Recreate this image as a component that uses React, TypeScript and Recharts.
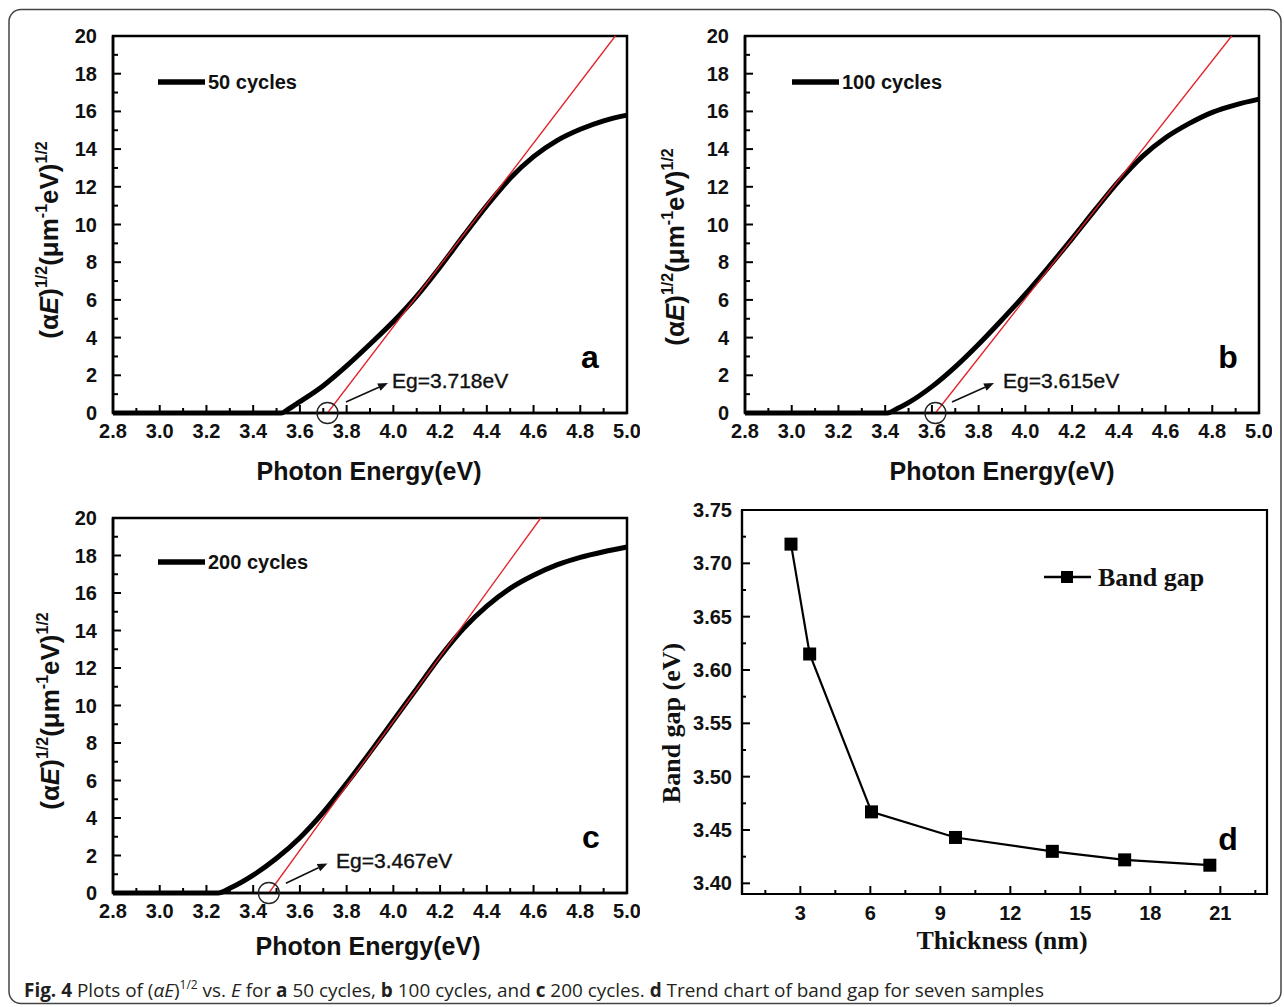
import React from "react";
import {
  LineChart,
  Line,
  XAxis,
  YAxis,
  ReferenceArea,
  ReferenceDot,
  ReferenceLine,
} from "recharts";

// ---- values ----
const energyTicks = [
  2.8, 2.9, 3.0, 3.1, 3.2, 3.3, 3.4, 3.5, 3.6, 3.7, 3.8, 3.9, 4.0, 4.1, 4.2,
  4.3, 4.4, 4.5, 4.6, 4.7, 4.8, 4.9, 5.0,
];
const absTicks = [
  0, 1, 2, 3, 4, 5, 6, 7, 8, 9, 10, 11, 12, 13, 14, 15, 16, 17, 18, 19, 20,
];

const energy50 = [2.8, 3.0, 3.2, 3.4, 3.52, 3.55, 3.6, 3.7, 3.8, 3.9, 4.0, 4.1, 4.2, 4.3, 4.4, 4.5, 4.6, 4.7, 4.8, 4.9, 5.0];
const abs50 = [0, 0, 0, 0, 0, 0.2, 0.6, 1.45, 2.5, 3.65, 4.85, 6.2, 7.75, 9.4, 11.0, 12.45, 13.6, 14.45, 15.05, 15.5, 15.8];

const energy100 = [2.8, 3.0, 3.2, 3.41, 3.45, 3.5, 3.6, 3.7, 3.8, 3.9, 4.0, 4.1, 4.2, 4.3, 4.4, 4.5, 4.6, 4.7, 4.8, 4.9, 5.0];
const abs100 = [0, 0, 0, 0, 0.22, 0.55, 1.4, 2.45, 3.65, 4.95, 6.3, 7.75, 9.25, 10.8, 12.3, 13.6, 14.6, 15.35, 15.95, 16.35, 16.65];

const energy200 = [2.8, 3.0, 3.25, 3.3, 3.4, 3.5, 3.6, 3.7, 3.8, 3.9, 4.0, 4.1, 4.2, 4.3, 4.4, 4.5, 4.6, 4.7, 4.8, 4.9, 5.0];
const abs200 = [0, 0, 0, 0.25, 0.95, 1.85, 2.95, 4.3, 5.85, 7.5, 9.2, 10.9, 12.6, 14.1, 15.3, 16.25, 16.95, 17.5, 17.9, 18.2, 18.45];

// linear fits: energy where the fit meets y = 0 and y = 20
const fitY = [0, 20];
const fit50 = [3.718, 4.95];
const fit100 = [3.615, 4.883];
const fit200 = [3.467, 4.631];

// arrow from the circled intercept towards the Eg label: x1, y1, x2, y2
const arrow50 = [3.797, 0.58, 3.977, 1.59];
const arrow100 = [3.686, 0.58, 3.866, 1.59];
const arrow200 = [3.54, 0.52, 3.718, 1.58];

const thickness = [2.6, 3.4, 6.05, 9.65, 13.8, 16.9, 20.55];
const bandGap = [3.718, 3.615, 3.467, 3.443, 3.43, 3.422, 3.417];
const thicknessTicks = [1.5, 3, 4.5, 6, 7.5, 9, 10.5, 12, 13.5, 15, 16.5, 18, 19.5, 21, 22.5];
const gapTicks = [3.4, 3.425, 3.45, 3.475, 3.5, 3.525, 3.55, 3.575, 3.6, 3.625, 3.65, 3.675, 3.7, 3.725, 3.75];

const SANS = "'Liberation Sans', Arial, sans-serif";
const SERIF = "'Liberation Serif', 'Times New Roman', serif";
const RED = "#e3232a";

function EnergyTick(props: any) {
  const { x, y, payload } = props;
  const v = payload.value;
  const major = Math.round(v * 10) % 2 === 0;
  return (
    <g>
      <line x1={x} x2={x} y1={y} y2={y - (major ? 8 : 5)} stroke="#000" strokeWidth={2} />
      {major && (
        <text x={x} y={y + 25} textAnchor="middle" fontFamily={SANS} fontWeight="bold" fontSize={20} fill="#111">
          {v.toFixed(1)}
        </text>
      )}
    </g>
  );
}

function AbsTick(props: any) {
  const { x, y, payload } = props;
  const v = payload.value;
  const major = v % 2 === 0;
  return (
    <g>
      <line x1={x} x2={x + (major ? 8 : 5)} y1={y} y2={y} stroke="#000" strokeWidth={2} />
      {major && (
        <text x={x - 16} y={y + 7} textAnchor="end" fontFamily={SANS} fontWeight="bold" fontSize={20} fill="#111">
          {v}
        </text>
      )}
    </g>
  );
}

function ThickTick(props: any) {
  const { x, y, payload } = props;
  const v = payload.value;
  const major = v % 3 === 0;
  return (
    <g>
      <line x1={x} x2={x} y1={y} y2={y - (major ? 8 : 4)} stroke="#000" strokeWidth={2} />
      {major && (
        <text x={x} y={y + 26} textAnchor="middle" fontFamily={SANS} fontWeight="bold" fontSize={20} fill="#111">
          {v}
        </text>
      )}
    </g>
  );
}

function GapTick(props: any) {
  const { x, y, payload } = props;
  const v = payload.value;
  const major = Math.round(v * 1000) % 50 === 0;
  return (
    <g>
      <line x1={x} x2={x + (major ? 8 : 4)} y1={y} y2={y} stroke="#000" strokeWidth={2} />
      {major && (
        <text x={x - 10} y={y + 7} textAnchor="end" fontFamily={SANS} fontWeight="bold" fontSize={20} fill="#111">
          {v.toFixed(2)}
        </text>
      )}
    </g>
  );
}

function ArrowShape(props: any) {
  const { x1, y1, x2, y2 } = props;
  const a = Math.atan2(y2 - y1, x2 - x1);
  const len = 10;
  const half = 4;
  const bx = x2 - len * Math.cos(a);
  const by = y2 - len * Math.sin(a);
  const pts = [
    [x2, y2],
    [bx + half * Math.sin(a), by - half * Math.cos(a)],
    [bx - half * Math.sin(a), by + half * Math.cos(a)],
  ]
    .map((p) => p.join(","))
    .join(" ");
  return (
    <g>
      <line x1={x1} y1={y1} x2={bx} y2={by} stroke="#111" strokeWidth={1.6} />
      <polygon points={pts} fill="#111" />
    </g>
  );
}

function SquareDot(props: any) {
  const { cx, cy, index } = props;
  return <rect key={index} x={cx - 6.5} y={cy - 6.5} width={13} height={13} fill="#000" />;
}

interface AbsProps {
  left: number;
  top: number;
  mb: number;
  energy: number[];
  abs: number[];
  fit: number[];
  arrow: number[];
}

function AbsPanel({ left, top, mb, energy, abs, fit, arrow }: AbsProps) {
  const curve = energy.map((x, i) => ({ x, y: abs[i] }));
  const fitLine = fit.map((x, i) => ({ x, y: fitY[i] }));
  return (
    <div style={{ position: "absolute", left, top }}>
      <LineChart width={640} height={500} margin={{ top: 36, right: 13, bottom: mb - 1, left: 112 }}>
        <XAxis
          type="number"
          dataKey="x"
          domain={[2.8, 5]}
          ticks={energyTicks}
          interval={0}
          height={1}
          tickSize={0}
          tickMargin={0}
          tickLine={false}
          axisLine={{ stroke: "#000", strokeWidth: 2.5 }}
          tick={(p: any) => <EnergyTick {...p} />}
        />
        <YAxis
          type="number"
          domain={[0, 20]}
          ticks={absTicks}
          interval={0}
          width={1}
          tickSize={0}
          tickMargin={0}
          tickLine={false}
          axisLine={{ stroke: "#000", strokeWidth: 2.5 }}
          tick={(p: any) => <AbsTick {...p} />}
        />
        <ReferenceArea x1={2.8} x2={5} y1={0} y2={20} fill="none" stroke="#000" strokeWidth={2.5} />
        <Line data={curve} dataKey="y" type="monotone" stroke="#000" strokeWidth={5} dot={false} isAnimationActive={false} />
        <Line data={fitLine} dataKey="y" type="linear" stroke={RED} strokeWidth={1.3} dot={false} isAnimationActive={false} />
        <ReferenceDot x={fit[0]} y={0} r={10.5} fill="none" stroke="#222" strokeWidth={1.3} />
        <ReferenceLine
          segment={[
            { x: arrow[0], y: arrow[1] },
            { x: arrow[2], y: arrow[3] },
          ]}
          shape={(p: any) => <ArrowShape {...p} />}
        />
      </LineChart>
    </div>
  );
}

function GapPanel() {
  const data = thickness.map((t, i) => ({ t, g: bandGap[i] }));
  return (
    <div style={{ position: "absolute", left: 640, top: 482 }}>
      <LineChart width={644} height={500} margin={{ top: 28, right: 17, bottom: 87, left: 101 }}>
        <XAxis
          type="number"
          dataKey="t"
          domain={[0.5, 23]}
          ticks={thicknessTicks}
          interval={0}
          height={1}
          tickSize={0}
          tickMargin={0}
          tickLine={false}
          axisLine={{ stroke: "#000", strokeWidth: 2.2 }}
          tick={(p: any) => <ThickTick {...p} />}
        />
        <YAxis
          type="number"
          domain={[3.39, 3.75]}
          ticks={gapTicks}
          interval={0}
          width={1}
          tickSize={0}
          tickMargin={0}
          tickLine={false}
          axisLine={{ stroke: "#000", strokeWidth: 2.2 }}
          tick={(p: any) => <GapTick {...p} />}
        />
        <ReferenceArea x1={0.5} x2={23} y1={3.39} y2={3.75} fill="none" stroke="#000" strokeWidth={2.2} />
        <Line
          data={data}
          dataKey="g"
          type="linear"
          stroke="#000"
          strokeWidth={2.2}
          dot={(p: any) => <SquareDot {...p} />}
          isAnimationActive={false}
        />
      </LineChart>
    </div>
  );
}

function AbsTitle({ x, y }: { x: number; y: number }) {
  return (
    <text
      transform={`translate(${x},${y}) rotate(-90)`}
      textAnchor="middle"
      fontFamily={SANS}
      fontWeight="bold"
      fontSize={26}
      fill="#111"
    >
      (α<tspan fontStyle="italic">E</tspan>)
      <tspan fontSize={16} dy={-11}>1/2</tspan>
      <tspan dy={11}>(μm</tspan>
      <tspan fontSize={16} dy={-11}>-1</tspan>
      <tspan dy={11}>eV)</tspan>
      <tspan fontSize={16} dy={-11}>1/2</tspan>
    </text>
  );
}

function Overlay() {
  const legend = (x: number, y: number, name: string) => (
    <g>
      <line x1={x} x2={x + 47} y1={y} y2={y} stroke="#000" strokeWidth={5.5} />
      <text x={x + 50} y={y + 7} fontFamily={SANS} fontWeight="bold" fontSize={20} fill="#111">
        {name}
      </text>
    </g>
  );
  const eg = (x: number, y: number, s: string) => (
    <text x={x} y={y} fontFamily={SANS} fontSize={21} fill="#111" stroke="#111" strokeWidth={0.4}>
      {s}
    </text>
  );
  const letter = (x: number, y: number, s: string) => (
    <text x={x} y={y} textAnchor="middle" fontFamily={SANS} fontWeight="bold" fontSize={32} fill="#000">
      {s}
    </text>
  );
  const xTitle = (x: number, y: number) => (
    <text x={x} y={y} textAnchor="middle" fontFamily={SANS} fontWeight="bold" fontSize={25} fill="#111">
      Photon Energy(eV)
    </text>
  );
  return (
    <svg
      width={1284}
      height={1007}
      style={{ position: "absolute", left: 0, top: 0, pointerEvents: "none" }}
    >
      <rect x={9} y={9.5} width={1272} height={994} rx={12} fill="none" stroke="#444" strokeWidth={1.5} />

      <AbsTitle x={58} y={240} />
      <AbsTitle x={684} y={247} />
      <AbsTitle x={59} y={711} />
      {xTitle(369, 480)}
      {xTitle(1002, 480)}
      {xTitle(368, 955)}

      {legend(158, 82, "50 cycles")}
      {legend(792, 82, "100 cycles")}
      {legend(158, 562, "200 cycles")}

      {eg(392, 388, "Eg=3.718eV")}
      {eg(1003, 388, "Eg=3.615eV")}
      {eg(336, 868, "Eg=3.467eV")}

      {letter(590, 368, "a")}
      {letter(1228, 368, "b")}
      {letter(591, 848, "c")}
      {letter(1228, 850, "d")}

      <g>
        <line x1={1044} x2={1091} y1={577} y2={577} stroke="#000" strokeWidth={2.5} />
        <rect x={1061} y={571} width={12} height={12} fill="#000" />
        <text x={1098} y={586} fontFamily={SERIF} fontWeight="bold" fontSize={26} fill="#111">
          Band gap
        </text>
      </g>
      <text x={1002} y={949} textAnchor="middle" fontFamily={SERIF} fontWeight="bold" fontSize={26} fill="#111">
        Thickness (nm)
      </text>
      <text
        transform="translate(680,723) rotate(-90)"
        textAnchor="middle"
        fontFamily={SERIF}
        fontWeight="bold"
        fontSize={26}
        fill="#111"
      >
        Band gap (eV)
      </text>

      <text
        x={24}
        y={997}
        fontFamily="'Open Sans', sans-serif"
        fontSize={19}
        fill="#231f20"
        textLength={1020}
        lengthAdjust="spacingAndGlyphs"
      >
        <tspan fontWeight="bold">Fig. 4</tspan>
        {" Plots of ("}
        <tspan fontStyle="italic">αE</tspan>
        {")"}
        <tspan fontSize={12} dy={-8}>1/2</tspan>
        <tspan dy={8}>{" vs. "}</tspan>
        <tspan fontStyle="italic">E</tspan>
        {" for "}
        <tspan fontWeight="bold">a</tspan>
        {" 50 cycles, "}
        <tspan fontWeight="bold">b</tspan>
        {" 100 cycles, and "}
        <tspan fontWeight="bold">c</tspan>
        {" 200 cycles. "}
        <tspan fontWeight="bold">d</tspan>
        {" Trend chart of band gap for seven samples"}
      </text>
    </svg>
  );
}

export default function App() {
  return (
    <div style={{ position: "absolute", left: 0, top: 0, width: 1284, height: 1007, background: "#fff" }}>
      <AbsPanel left={0} top={0} mb={87} energy={energy50} abs={abs50} fit={fit50} arrow={arrow50} />
      <AbsPanel left={632} top={0} mb={87} energy={energy100} abs={abs100} fit={fit100} arrow={arrow100} />
      <AbsPanel left={0} top={482} mb={89} energy={energy200} abs={abs200} fit={fit200} arrow={arrow200} />
      <GapPanel />
      <Overlay />
    </div>
  );
}
